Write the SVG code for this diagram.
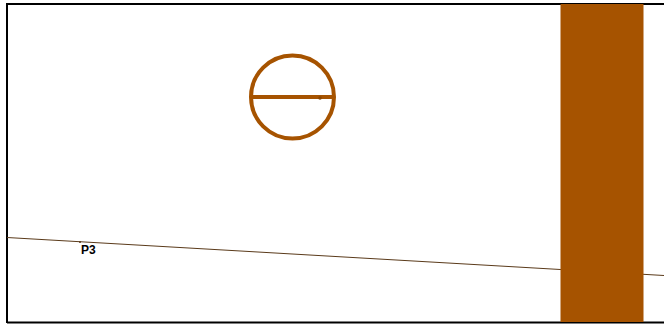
<svg xmlns="http://www.w3.org/2000/svg" width="664" height="324" viewBox="0 0 664 324">
<style>
.frame{fill:none;stroke:#000;stroke-width:2}
.brown{stroke:#A65300;fill:none;stroke-width:4}
.lbl{font-family:"Liberation Sans",Arial,sans-serif;font-size:12px;font-weight:bold;fill:#000}
</style>
<rect x="0" y="0" width="664" height="324" fill="#fff"/>
<g id="frame"><path class="frame" d="M7,323 V4 H664 M7,322.5 H664"/></g>
<g id="connectors">
<line x1="7" y1="237.5" x2="664" y2="275.5" stroke="#5a3a1a" stroke-width="1"/>
</g>
<g id="pillar"><rect x="560.5" y="4" width="83" height="318" fill="#A65300"/></g>
<g id="circle">
<circle class="brown" cx="292.5" cy="97" r="41.5"/>
<line class="brown" x1="251" y1="97" x2="334" y2="97"/>
<circle cx="320" cy="98" r="1.8" fill="#8a4500"/>
</g>
<g id="P3">
<circle cx="80" cy="242" r="1" fill="#5a3a1a"/>
<text class="lbl" x="81" y="254">P3</text>
</g>
</svg>
